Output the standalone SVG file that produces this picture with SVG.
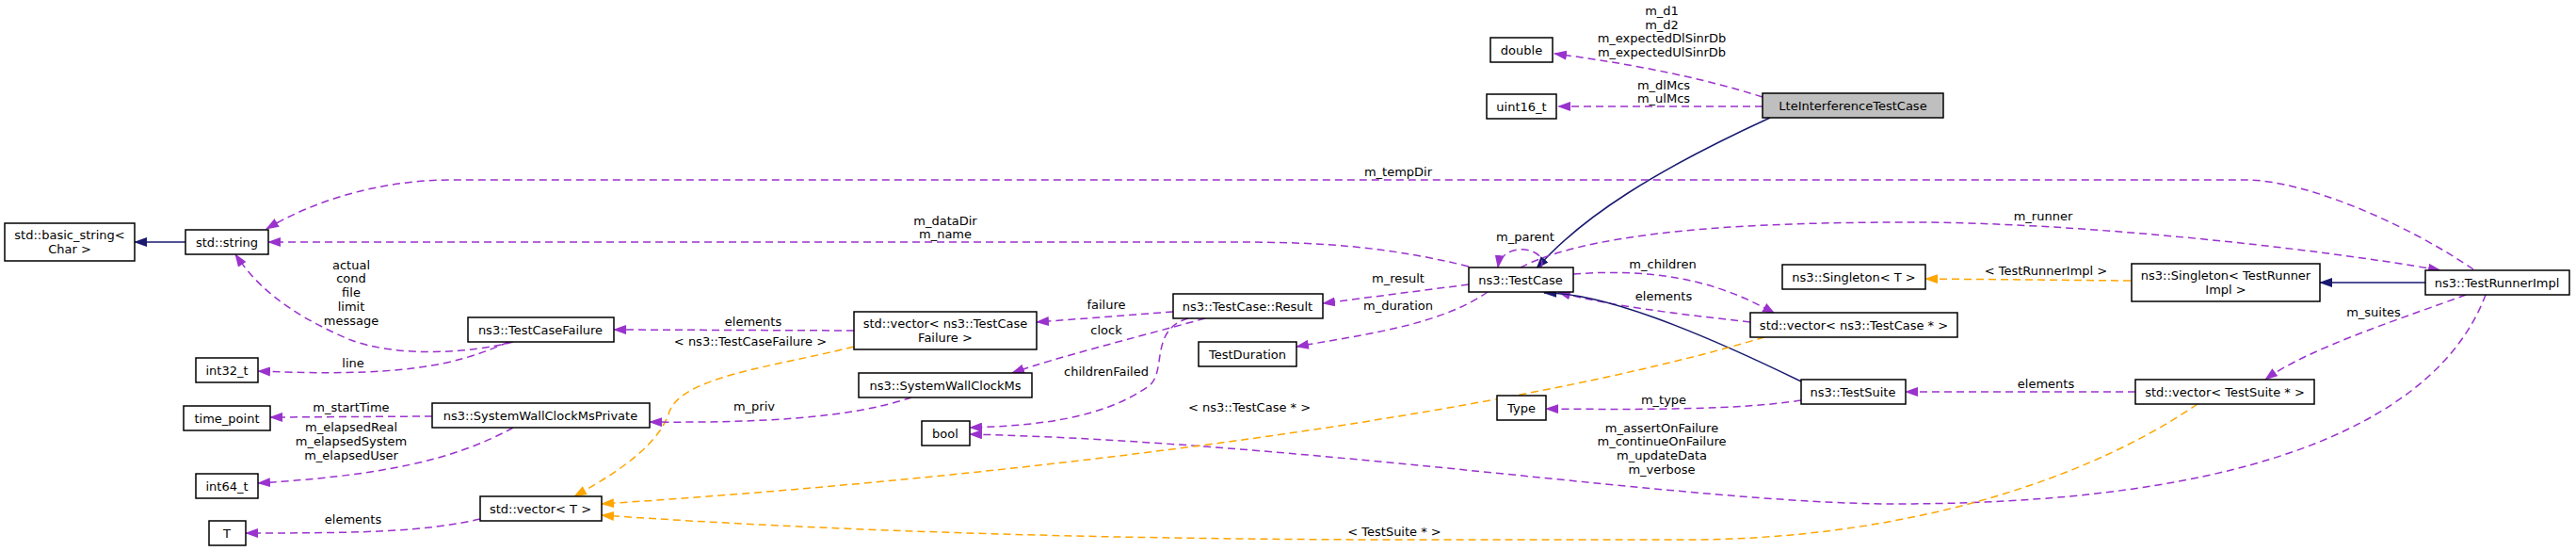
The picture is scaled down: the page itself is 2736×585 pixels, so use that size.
<svg xmlns="http://www.w3.org/2000/svg" width="2736" height="585" viewBox="0 0 2736 585">
<style>
rect{fill:#fff;stroke:#000;stroke-width:1.5}
text{font-family:"DejaVu Sans",sans-serif;font-size:13px;text-anchor:middle;fill:#000}
.p{fill:none;stroke:#9a32cd;stroke-width:1.5;stroke-dasharray:8,5}
.o{fill:none;stroke:#ffa500;stroke-width:1.5;stroke-dasharray:8,5}
.n{fill:none;stroke:#191970;stroke-width:1.5}
</style>
<defs>
<marker id="mp" markerWidth="14" markerHeight="10" refX="13" refY="5" orient="auto" markerUnits="userSpaceOnUse"><path d="M0,0 L14,5 L0,10 Z" fill="#9a32cd"/></marker>
<marker id="mo" markerWidth="14" markerHeight="10" refX="13" refY="5" orient="auto" markerUnits="userSpaceOnUse"><path d="M0,0 L14,5 L0,10 Z" fill="#ffa500"/></marker>
<marker id="mn" markerWidth="14" markerHeight="10" refX="13" refY="5" orient="auto" markerUnits="userSpaceOnUse"><path d="M0,0 L14,5 L0,10 Z" fill="#191970"/></marker>
</defs>
<g id="edges">
<path class="p" marker-end="url(#mp)" d="M1872,103 C1800,80 1720,66 1651,57"/>
<path class="p" marker-end="url(#mp)" d="M1872,113 L1655,113"/>
<path class="n" marker-end="url(#mn)" d="M1880,125 C1760,180 1680,230 1632,285"/>
<path class="p" marker-end="url(#mp)" d="M2627,286 C2560,240 2450,191 2385,191 L480,191 C400,191 330,215 283,243"/>
<path class="p" marker-end="url(#mp)" d="M1615,284 C1700,240 1900,236 2031,236 C2200,236 2450,262 2592,287"/>
<path class="p" marker-end="url(#mp)" d="M1560,283 C1460,258 1380,257 1300,257 L285,257"/>
<path class="p" marker-end="url(#mp)" d="M1637,284 C1645,262 1595,255 1591,284"/>
<path class="p" marker-end="url(#mp)" d="M1560,302 L1405,322"/>
<path class="p" marker-end="url(#mp)" d="M1580,310 C1530,345 1450,355 1377,368"/>
<path class="p" marker-end="url(#mp)" d="M1671,291 C1750,285 1820,295 1885,333"/>
<path class="p" marker-end="url(#mp)" d="M1859,342 C1780,333 1710,325 1655,310"/>
<path class="o" marker-end="url(#mo)" d="M2263,298 L2045,296"/>
<path class="n" stroke-width="2.5" marker-end="url(#mn)" d="M2576,300 L2464,300"/>
<path class="n" marker-end="url(#mn)" d="M1913,405 C1800,350 1700,310 1640,311"/>
<path class="p" marker-end="url(#mp)" d="M2268,416 L2024,416"/>
<path class="p" marker-end="url(#mp)" d="M1913,425 C1850,435 1750,435 1642,434"/>
<path class="p" marker-end="url(#mp)" d="M2619,313 C2560,335 2450,370 2406,403"/>
<path class="p" marker-end="url(#mp)" d="M2640,313 C2600,420 2450,535 2012,535 C1800,535 1400,470 1030,461"/>
<path class="o" marker-end="url(#mo)" d="M2334,429 C2200,520 2000,573 1791,573 L1500,573 C1200,573 900,565 639,547"/>
<path class="o" marker-end="url(#mo)" d="M1874,358 C1600,440 1100,505 639,535"/>
<path class="o" marker-end="url(#mo)" d="M907,368 C820,390 720,400 710,440 C695,480 640,510 610,527"/>
<path class="p" marker-end="url(#mp)" d="M1246,331 L1101,342"/>
<path class="p" marker-end="url(#mp)" d="M1280,338 C1200,360 1120,380 1075,396"/>
<path class="p" marker-end="url(#mp)" d="M1262,338 C1220,350 1240,395 1220,410 C1170,445 1100,452 1030,454"/>
<path class="p" marker-end="url(#mp)" d="M907,351 L652,350"/>
<path class="p" marker-end="url(#mp)" d="M545,363 C500,375 420,380 370,360 C300,330 270,300 250,270"/>
<path class="p" marker-end="url(#mp)" d="M540,363 C480,390 420,400 274,394"/>
<path class="p" marker-end="url(#mp)" d="M968,422 C900,445 800,449 690,448"/>
<path class="p" marker-end="url(#mp)" d="M459,442 L287,443"/>
<path class="p" marker-end="url(#mp)" d="M545,454 C480,490 400,505 274,513"/>
<path class="p" marker-end="url(#mp)" d="M510,551 C450,565 380,566 261,566"/>
<path class="n" marker-end="url(#mn)" d="M197,257 L143,257"/>
</g>
<g id="labels">
<text x="1765" y="16">m_d1</text><text x="1765" y="31">m_d2</text><text x="1765" y="45">m_expectedDlSinrDb</text><text x="1765" y="60">m_expectedUlSinrDb</text>
<text x="1767" y="95">m_dlMcs</text><text x="1767" y="109">m_ulMcs</text>
<text x="1485" y="187">m_tempDir</text>
<text x="1004" y="239">m_dataDir</text><text x="1004" y="253">m_name</text>
<text x="1620" y="256">m_parent</text>
<text x="2170" y="234">m_runner</text>
<text x="1766" y="285">m_children</text>
<text x="1767" y="319">elements</text>
<text x="1485" y="300">m_result</text>
<text x="1485" y="329">m_duration</text>
<text x="2173" y="292">&lt; TestRunnerImpl &gt;</text>
<text x="2521" y="336">m_suites</text>
<text x="2173" y="412">elements</text>
<text x="1767" y="429">m_type</text>
<text x="1765" y="459">m_assertOnFailure</text><text x="1765" y="473">m_continueOnFailure</text><text x="1765" y="488">m_updateData</text><text x="1765" y="503">m_verbose</text>
<text x="1481" y="569">&lt; TestSuite * &gt;</text>
<text x="1327" y="437">&lt; ns3::TestCase * &gt;</text>
<text x="1175" y="328">failure</text>
<text x="1175" y="355">clock</text>
<text x="1175" y="399">childrenFailed</text>
<text x="800" y="346">elements</text>
<text x="797" y="367">&lt; ns3::TestCaseFailure &gt;</text>
<text x="373" y="286">actual</text><text x="373" y="300">cond</text><text x="373" y="315">file</text><text x="373" y="330">limit</text><text x="373" y="345">message</text>
<text x="375" y="390">line</text>
<text x="373" y="437">m_startTime</text>
<text x="373" y="458">m_elapsedReal</text><text x="373" y="473">m_elapsedSystem</text><text x="373" y="488">m_elapsedUser</text>
<text x="801" y="436">m_priv</text>
<text x="375" y="556">elements</text>
</g>
<g id="LteInterferenceTestCase"><rect x="1872" y="99" width="192" height="26" style="fill:#bfbfbf"/><text x="1968" y="117">LteInterferenceTestCase</text></g>
<g id="double"><rect x="1583" y="40" width="66" height="26"/><text x="1616" y="58">double</text></g>
<g id="uint16_t"><rect x="1579" y="100" width="74" height="26"/><text x="1616" y="118">uint16_t</text></g>
<g id="basic_string"><rect x="5" y="237" width="138" height="40"/><text x="74" y="254">std::basic_string&lt;</text><text x="74" y="269">Char &gt;</text></g>
<g id="string"><rect x="197" y="244" width="88" height="26"/><text x="241" y="262">std::string</text></g>
<g id="TestCaseFailure"><rect x="497" y="337" width="155" height="26"/><text x="574" y="355">ns3::TestCaseFailure</text></g>
<g id="int32_t"><rect x="208" y="380" width="66" height="26"/><text x="241" y="398">int32_t</text></g>
<g id="time_point"><rect x="195" y="431" width="92" height="26"/><text x="241" y="449">time_point</text></g>
<g id="SystemWallClockMsPrivate"><rect x="459" y="428" width="231" height="26"/><text x="574" y="446">ns3::SystemWallClockMsPrivate</text></g>
<g id="int64_t"><rect x="208" y="503" width="66" height="26"/><text x="241" y="521">int64_t</text></g>
<g id="vectorT"><rect x="510" y="527" width="129" height="26"/><text x="574" y="545">std::vector&lt; T &gt;</text></g>
<g id="T"><rect x="222" y="553" width="39" height="26"/><text x="241" y="571">T</text></g>
<g id="vectorTCF"><rect x="907" y="331" width="194" height="40"/><text x="1004" y="348">std::vector&lt; ns3::TestCase</text><text x="1004" y="363">Failure &gt;</text></g>
<g id="SystemWallClockMs"><rect x="912" y="396" width="184" height="26"/><text x="1004" y="414">ns3::SystemWallClockMs</text></g>
<g id="bool"><rect x="979" y="447" width="51" height="26"/><text x="1004" y="465">bool</text></g>
<g id="Result"><rect x="1246" y="312" width="159" height="26"/><text x="1325" y="330">ns3::TestCase::Result</text></g>
<g id="TestDuration"><rect x="1273" y="363" width="104" height="26"/><text x="1325" y="381">TestDuration</text></g>
<g id="TestCase"><rect x="1560" y="284" width="111" height="26"/><text x="1615" y="302">ns3::TestCase</text></g>
<g id="Type"><rect x="1590" y="420" width="52" height="26"/><text x="1616" y="438">Type</text></g>
<g id="vectorTC"><rect x="1859" y="332" width="220" height="26"/><text x="1969" y="350">std::vector&lt; ns3::TestCase * &gt;</text></g>
<g id="TestSuite"><rect x="1913" y="403" width="111" height="26"/><text x="1968" y="421">ns3::TestSuite</text></g>
<g id="SingletonT"><rect x="1893" y="281" width="152" height="26"/><text x="1969" y="299">ns3::Singleton&lt; T &gt;</text></g>
<g id="SingletonTRI"><rect x="2264" y="280" width="200" height="40"/><text x="2364" y="297">ns3::Singleton&lt; TestRunner</text><text x="2364" y="312">Impl &gt;</text></g>
<g id="vectorTS"><rect x="2268" y="403" width="190" height="26"/><text x="2363" y="421">std::vector&lt; TestSuite * &gt;</text></g>
<g id="TestRunnerImpl"><rect x="2576" y="287" width="153" height="26"/><text x="2652" y="305">ns3::TestRunnerImpl</text></g>
</svg>
